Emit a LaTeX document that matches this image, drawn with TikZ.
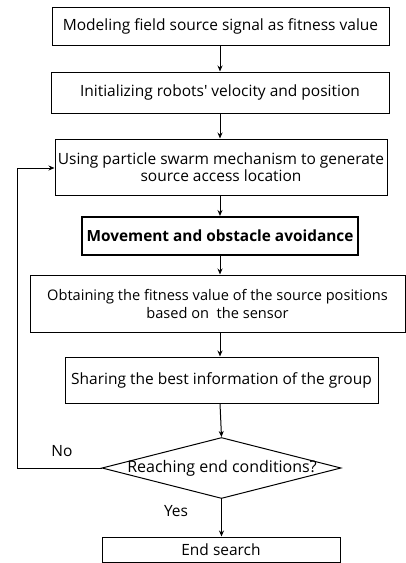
\documentclass[tikz,border=0pt]{standalone}
\usepackage{fontspec}
\setmainfont{Open Sans}[Ligatures=TeXOff]
\usetikzlibrary{shapes.geometric,arrows.meta}
\begin{document}
\begin{tikzpicture}[x=1pt,y=-1pt,
  every node/.style={font=\fontsize{15.5}{18}\selectfont, inner sep=0pt},
  box/.style={draw, line width=1pt, rectangle, align=center},
  arr/.style={line width=1pt, -{Stealth[length=6pt,width=5pt]}}]
\useasboundingbox (0,0) rectangle (406,563);
\node[box, minimum width=337pt, minimum height=38pt] (b1) at (220.5,26) {Modeling field source signal as fitness value};
\node[box, minimum width=338pt, minimum height=41pt] (b2) at (220,92.5) {Initializing robots' velocity and position};
\node[box, minimum width=332pt, minimum height=56pt, font=\fontsize{15.5}{12}\selectfont] (b3) at (221,167) {Using particle swarm mechanism to generate\\source access location};
\node[box, line width=2pt, minimum width=276pt, minimum height=38pt, font=\bfseries\fontsize{15.4}{18}\selectfont] (b4) at (220,236) {Movement and obstacle avoidance};
\node[box, minimum width=375pt, minimum height=57pt, font=\fontsize{14.6}{18}\selectfont] (b5) at (217.5,303.5) {Obtaining the fitness value of the source positions\\based on\ \ the sensor};
\node[box, minimum width=313pt, minimum height=46pt] (b6) at (221.5,380) {Sharing the best information of the group};
\node[draw, line width=1pt, diamond, minimum width=239pt, minimum height=61pt, inner sep=0pt] (d) at (221.5,468) {};
\node[font=\fontsize{16}{18}\selectfont] (dt) at (222,468) {Reaching end conditions?};
\node[box, minimum width=238pt, minimum height=25pt] (e) at (221,549.5) {End search};
\node (no) at (62,451) {No};
\node (yes) at (176,511) {Yes};
\coordinate (ax) at (220,0);
\coordinate (lp) at (17,0);
\draw[arr] (b1.south -| ax) -- (b2.north -| ax);
\draw[arr] (b2.south -| ax) -- (b3.north -| ax);
\draw[arr] (b3.south -| ax) -- (b4.north -| ax);
\draw[arr] (b4.south -| ax) -- (b5.north -| ax);
\draw[arr] (b5.south -| ax) -- (b6.north -| ax);
\draw[arr] (b6.south -| ax) -- (d.north);
\draw[arr] (d.south) -- (e.north -| d.south);
\draw[arr] (d.west) -- (d.west -| lp) -- (lp |- 0,168) -- (b3.west |- 0,168);
\end{tikzpicture}
\end{document}
